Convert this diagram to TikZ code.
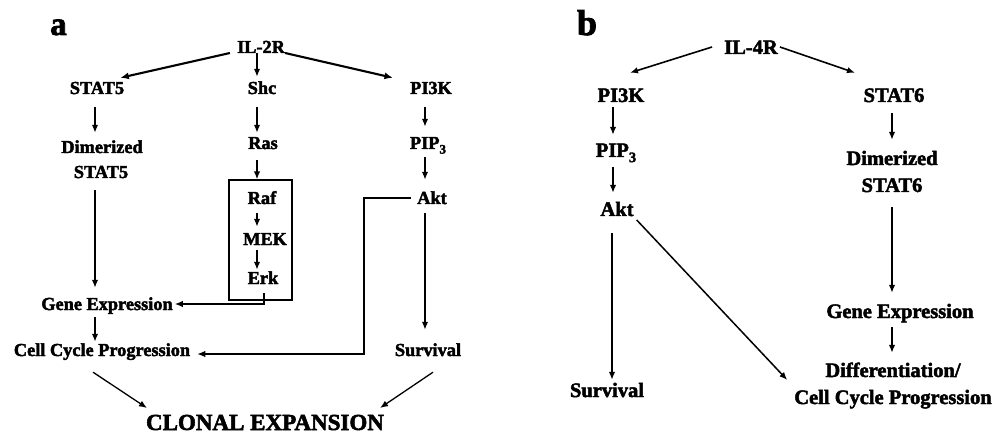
\documentclass[tikz,border=0pt]{standalone}
\usepackage{fontspec}
\setmainfont{Liberation Serif}[BoldFeatures={FakeBold=2.3}]
\usetikzlibrary{arrows.meta,calc}
\begin{document}
\begin{tikzpicture}[x=1pt,y=-1pt,
  la/.style={inner sep=0pt, anchor=base, text height=12pt, text depth=0pt, font=\fontsize{18.3}{22}\selectfont\bfseries},
  lb/.style={inner sep=0pt, anchor=base, text height=13.5pt, text depth=0pt, font=\fontsize{20.5}{24}\selectfont\bfseries},
  arr/.style={line width=1.7pt, -{Latex[length=8pt,width=6.5pt]}},
  darr/.style={line width=2.1pt, -{Latex[length=8.5pt,width=7pt]}},
  tarr/.style={line width=1.3pt, -{Latex[length=8pt,width=6.5pt]}},
  ln/.style={line width=1.2pt}]
\useasboundingbox (0,0) rectangle (997,433);
% panel letters
\node[inner sep=0pt, anchor=base, font=\fontsize{33}{36}\selectfont\bfseries] (lbla) at (58.5,35) {a};
\node[inner sep=0pt, anchor=base, font=\fontsize{36}{40}\selectfont\bfseries] (lblb) at (587,35) {b};
% ---------------- panel a ----------------
\node[la] (il2r) at (261,53) {IL-2R};
\node[la] (stat5) at (97,94) {STAT5};
\node[la] (shc) at (262,94) {Shc};
\node[la] (pi3ka) at (431,94) {PI3K};
\node[la] (dima) at (102,153) {Dimerized};
\node[la] (dimb) at (101,178) {STAT5};
\node[la] (ras) at (263,149) {Ras};
\node[la] (pip3a) at (428,149) {PIP\raisebox{-0.25em}{\fontsize{13}{15}\selectfont 3}};
\node[draw, ln, inner sep=0pt, minimum width=63pt, minimum height=120pt] (box) at (260.5,240) {};
\node[la] (raf) at (262,204) {Raf};
\node[la] (akta) at (432,204) {Akt};
\node[la] (mek) at (265,245) {MEK};
\node[la] (erk) at (263,284) {Erk};
\node[la] (genea) at (107,310) {Gene Expression};
\node[la] (cella) at (102,356) {Cell Cycle Progression};
\node[la] (surva) at (428,356) {Survival};
\node[inner sep=0pt, anchor=base, font=\fontsize{23}{27}\selectfont\bfseries] (clonal) at (265,430) {CLONAL EXPANSION};
\coordinate (ca1) at (95,0);
\coordinate (ca2) at (257,0);
\coordinate (ca3) at (425,0);
\coordinate (loopx) at (364,0);
% IL-2R branches
\draw[darr] ($(il2r.base west)+(-7,0)$) -- ($(stat5.north east)+(-4,-4)$);
\draw[darr] (il2r.base east) -- ($(pi3ka.north west)+(-17,-4)$);
\draw[arr] (il2r.base -| ca2) -- ($(shc.north -| ca2)+(0,-5)$);
% STAT5 column
\draw[arr] ($(stat5.south -| ca1)+(0,13)$) -- ($(dima.north -| ca1)+(0,-8)$);
\draw[arr] ($(dimb.south -| ca1)+(0,12)$) -- ($(genea.north -| ca1)+(0,-10)$);
\draw[arr] ($(genea.south -| ca1)+(0,7)$) -- ($(cella.north -| ca1)+(0,-2)$);
% Shc column
\draw[arr] ($(shc.south -| ca2)+(0,13)$) -- ($(ras.north -| ca2)+(0,-4)$);
\draw[arr] ($(ras.south -| ca2)+(0,11)$) -- (box.north -| ca2);
\draw[arr] ($(raf.south -| ca2)+(0,9)$) -- ($(mek.north -| ca2)+(0,-6)$);
\draw[arr] ($(mek.south -| ca2)+(0,5)$) -- ($(erk.north -| ca2)+(0,-2)$);
\coordinate (erkstart) at ($(erk.south)+(1,9)$);
\draw[tarr] (erkstart) |- ($(genea.east)+(2,0)$);
% PI3K column
\draw[arr] ($(pi3ka.south -| ca3)+(0,13)$) -- ($(pip3a.north -| ca3)+(0,-10)$);
\draw[arr] ($(pip3a.south -| ca3)+(0,8)$) -- ($(akta.north -| ca3)+(0,-12)$);
\draw[arr] ($(akta.south -| ca3)+(0,9)$) -- ($(surva.north -| ca3)+(0,-14)$);
\coordinate (cellend) at ($(cella.base east)+(7,-2)$);
\draw[tarr] ($(akta.west)+(-6,0)$) -| (loopx |- cellend) -- (cellend);
% to clonal expansion
\draw[tarr] ($(cella.south)+(-9,16)$) -- ($(clonal.base)+(-118,-22)$);
\draw[tarr] ($(surva.south)+(5,16)$) -- ($(clonal.base)+(115,-22)$);
% ---------------- panel b ----------------
\node[lb] (il4r) at (751,54) {IL-4R};
\node[lb] (pi3kb) at (621,102) {PI3K};
\node[lb] (stat6) at (894,102) {STAT6};
\node[lb] (pip3b) at (616,157) {PIP\raisebox{-0.25em}{\fontsize{14.5}{16}\selectfont 3}};
\node[lb] (dimc) at (892,165) {Dimerized};
\node[lb] (dimd) at (892,192) {STAT6};
\node[lb] (aktb) at (617,216) {Akt};
\node[lb] (geneb) at (900,318) {Gene Expression};
\node[lb] (diff) at (893,377) {Differentiation/};
\node[lb] (cellb) at (893,404) {Cell Cycle Progression};
\node[lb] (survb) at (607,397) {Survival};
\coordinate (cb1) at (613,0);
\coordinate (cb2) at (892,0);
\draw[tarr, line width=1.6pt] ($(il4r.base west)+(-12,-7)$) -- ($(pi3kb.north)+(9,-15.5)$);
\draw[tarr, line width=1.6pt] ($(il4r.base east)+(2,-7)$) -- ($(stat6.north)+(-39,-15.5)$);
\draw[tarr, line width=1.5pt] ($(pi3kb.south -| cb1)+(0,5)$) -- ($(pip3b.north -| cb1)+(0,-8.5)$);
\draw[tarr, line width=1.5pt] ($(pip3b.south -| cb1)+(0,10)$) -- ($(aktb.north -| cb1)+(0,-9.5)$);
\draw[tarr, line width=1.5pt] ($(aktb.south -| cb1)+(-1,17)$) -- ($(survb.north -| cb1)+(-1,-3.5)$);
\draw[tarr, line width=1.5pt] ($(aktb.base east)+(3,4)$) -- ($(diff.base west)+(-38,3)$);
\draw[tarr, line width=1.5pt] ($(stat6.south -| cb2)+(0,11)$) -- ($(dimc.north -| cb2)+(0,-11.5)$);
\draw[tarr, line width=1.5pt] ($(dimd.south -| cb2)+(0,15)$) -- ($(geneb.north -| cb2)+(0,-11.5)$);
\draw[tarr, line width=1.5pt] ($(geneb.south -| cb2)+(0,9)$) -- ($(diff.north -| cb2)+(0,-10.5)$);
\end{tikzpicture}
\end{document}
